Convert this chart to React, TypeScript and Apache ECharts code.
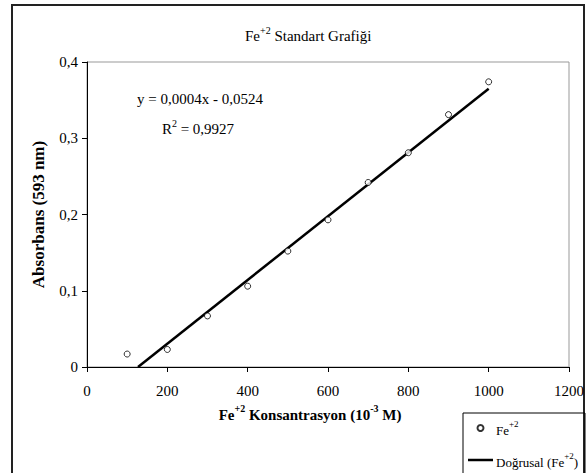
import React, { useEffect, useRef } from "react";
import * as echarts from "echarts";

const concentrations = [100, 200, 300, 400, 500, 600, 700, 800, 900, 1000];
const absorbance = [0.017, 0.023, 0.067, 0.106, 0.152, 0.193, 0.242, 0.281, 0.331, 0.374];
const trendX = [127, 1000];
const trendY = [0, 0.365];
const equationText = "y = 0,0004x - 0,0524";
const r2Value = "0,9927";
const seriesNames = ["Fe+2", "Doğrusal (Fe+2)"];

const FONT = "Liberation Serif, DejaVu Serif, serif";

const sup = (size: number, bold = false) => ({
  fontSize: size,
  fontFamily: FONT,
  fontWeight: bold ? "bold" : "normal",
  color: "#000",
  verticalAlign: "top" as const,
  lineHeight: size + 1,
});
const base = (size: number, bold = false, lh = 17) => ({
  fontSize: size,
  fontFamily: FONT,
  fontWeight: bold ? "bold" : "normal",
  color: "#000",
  lineHeight: lh,
  verticalAlign: "bottom" as const,
});

export default function App() {
  const ref = useRef<HTMLDivElement>(null);
  useEffect(() => {
    if (!ref.current) return;
    const chart = echarts.init(ref.current, undefined, { renderer: "svg" });
    chart.setOption({
      animation: false,
      backgroundColor: "#fff",
      textStyle: { fontFamily: FONT },
      title: {
        text: "{n|Fe}{s|+2}{n| Standart Grafiği}",
        left: 240,
        top: 20,
        textStyle: {
          rich: { n: base(15, false, 18), s: sup(10) },
        },
      },
      grid: {
        left: 87,
        top: 62,
        right: 17,
        bottom: 106,
        show: true,
        borderColor: "#999",
        borderWidth: 1,
      },
      legend: {
        orient: "vertical",
        left: 468,
        top: 419,
        itemWidth: 25,
        itemHeight: 6,
        itemGap: 14,
        padding: 0,
        data: [
          { name: seriesNames[0], icon: "circle" },
          { name: seriesNames[1], icon: "path://M0,0H25V2.5H0Z" },
        ],
        formatter: (name: string) =>
          name === seriesNames[0]
            ? "{n|Fe}{s|+2}"
            : "{n|Doğrusal (Fe}{s|+2}{n|)}",
        textStyle: {
          padding: [0, 0, 0, -2],
          rich: { n: base(13, false, 18), s: sup(9) },
        },
      },
      xAxis: {
        type: "value",
        min: 0,
        max: 1200,
        interval: 200,
        name: "{n|Fe}{s|+2}{n| Konsantrasyon (10}{s|-3}{n| M)}",
        nameLocation: "middle",
        nameGap: 36,
        nameTextStyle: {
          padding: [0, 36, 0, 0],
          rich: { n: base(15, true, 19), s: sup(10, true) },
        },
        axisLine: { show: true, lineStyle: { color: "#000", width: 1 } },
        axisTick: { show: true, inside: false, length: 5, lineStyle: { color: "#000" } },
        axisLabel: {
          color: "#000",
          fontFamily: FONT,
          fontSize: 15,
          margin: 16,
          formatter: (v: number) => String(v),
        },
        splitLine: { show: false },
      },
      yAxis: {
        type: "value",
        min: 0,
        max: 0.4,
        interval: 0.1,
        name: "Absorbans (593 nm)",
        nameLocation: "middle",
        nameGap: 40,
        nameTextStyle: {
          color: "#000",
          fontFamily: FONT,
          fontWeight: "bold",
          fontSize: 17,
        },
        axisLine: { show: true, lineStyle: { color: "#000", width: 1 } },
        axisTick: { show: true, inside: false, length: 5, lineStyle: { color: "#000" } },
        axisLabel: {
          color: "#000",
          fontFamily: FONT,
          fontSize: 15,
          margin: 9,
          formatter: (v: number) => String(Number(v.toFixed(1))).replace(".", ","),
        },
        splitLine: { show: false },
      },
      series: [
        {
          name: seriesNames[0],
          type: "scatter",
          symbol: "circle",
          symbolSize: 6,
          itemStyle: { color: "#fff", borderColor: "#000", borderWidth: 1 },
          data: concentrations.map((x, i) => [x, absorbance[i]]),
          z: 3,
        },
        {
          name: seriesNames[1],
          type: "line",
          symbol: "none",
          showSymbol: false,
          lineStyle: { color: "#000", width: 2.5 },
          itemStyle: { color: "#000" },
          data: trendX.map((x, i) => [x, trendY[i]]),
          z: 2,
        },
      ],
      graphic: [
        {
          type: "rect",
          silent: true,
          z: 0,
          shape: { x: 12, y: 5, width: 572, height: 480 },
          style: { fill: "none", stroke: "#222", lineWidth: 2 },
        },
        {
          type: "rect",
          silent: true,
          z: 0,
          shape: { x: 463, y: 413, width: 122, height: 70 },
          style: { fill: "none", stroke: "#000", lineWidth: 1 },
        },
        {
          type: "text",
          x: 200,
          y: 99,
          style: {
            text: equationText,
            fontFamily: FONT,
            fontSize: 15,
            fill: "#000",
            align: "center",
            verticalAlign: "middle",
          },
        },
        {
          type: "text",
          x: 198,
          y: 127,
          style: {
            text: "{n|R}{s|2}{n| = " + r2Value + "}",
            align: "center",
            verticalAlign: "middle",
            rich: { n: base(15, false, 18), s: sup(10) },
          },
        },
      ],
    });
    return () => chart.dispose();
  }, []);
  return (
    <div
      ref={ref}
      style={{ position: "fixed", left: 0, top: 0, width: 587, height: 473 }}
    />
  );
}
